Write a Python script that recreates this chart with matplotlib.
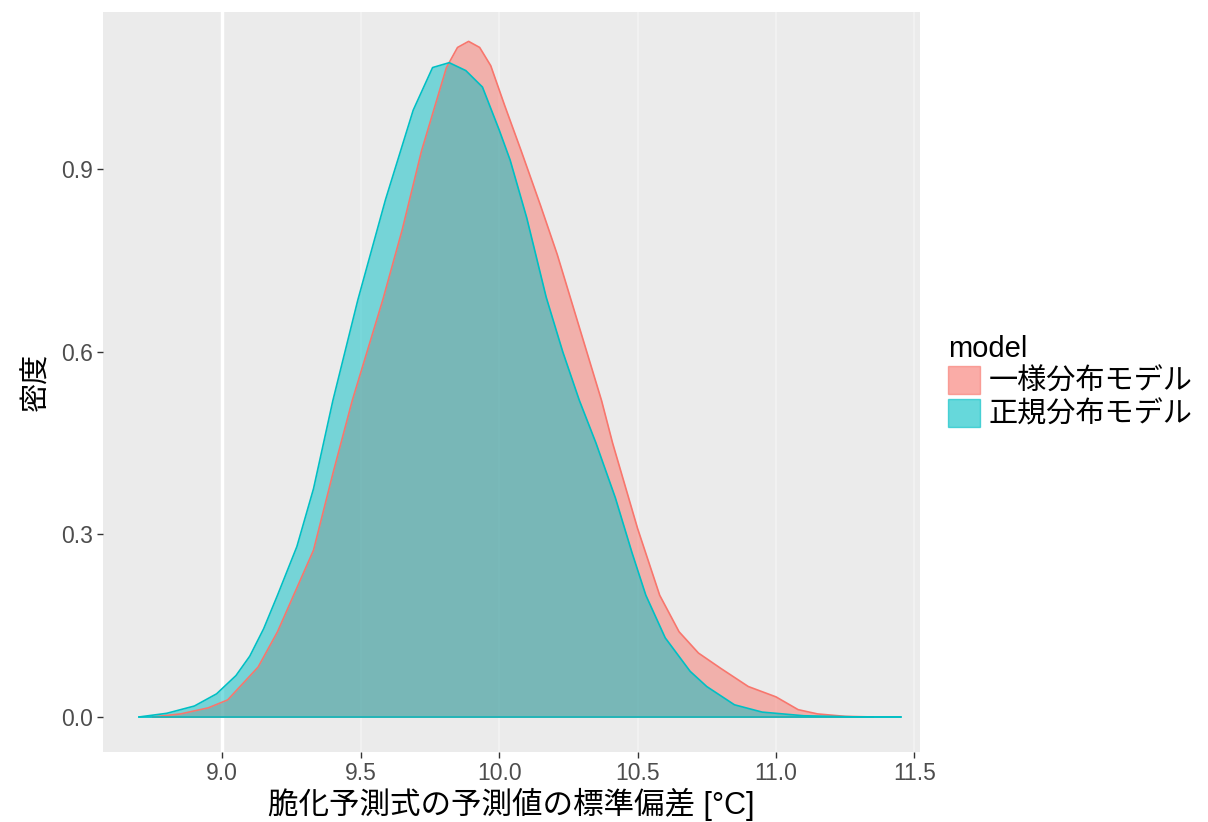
import numpy as np
import matplotlib.pyplot as plt
from matplotlib.patches import Patch

plt.rcParams['font.family'] = ['Liberation Sans', 'Noto Sans CJK JP', 'DejaVu Sans']

# density
x_normal = [8.70, 8.80, 8.90, 8.98, 9.05, 9.10, 9.15, 9.20, 9.27, 9.33, 9.40, 9.49,
            9.59, 9.69, 9.76, 9.82, 9.88, 9.94, 10.00, 10.04, 10.10, 10.17, 10.23,
            10.29, 10.35, 10.42, 10.48, 10.53, 10.60, 10.69, 10.75, 10.85, 10.95,
            11.10, 11.30, 11.45]
y_normal = [0.000, 0.006, 0.018, 0.038, 0.068, 0.100, 0.145, 0.200, 0.280, 0.375,
            0.520, 0.685, 0.850, 0.997, 1.067, 1.075, 1.062, 1.035, 0.965, 0.915,
            0.820, 0.690, 0.600, 0.520, 0.450, 0.360, 0.270, 0.200, 0.130, 0.075,
            0.050, 0.020, 0.008, 0.002, 0.000, 0.000]

x_uniform = [8.75, 8.85, 8.95, 9.02, 9.13, 9.20, 9.33, 9.40, 9.47, 9.58, 9.65, 9.72,
             9.81, 9.85, 9.89, 9.93, 9.97, 10.02, 10.08, 10.15, 10.21, 10.27, 10.33,
             10.37, 10.41, 10.50, 10.58, 10.65, 10.72, 10.80, 10.90, 11.00, 11.08,
             11.15, 11.25, 11.35]
y_uniform = [0.000, 0.005, 0.015, 0.028, 0.082, 0.140, 0.274, 0.400, 0.520, 0.685,
             0.800, 0.930, 1.067, 1.100, 1.110, 1.100, 1.070, 1.005, 0.930, 0.840,
             0.760, 0.670, 0.580, 0.520, 0.450, 0.310, 0.200, 0.140, 0.105, 0.080,
             0.050, 0.033, 0.012, 0.005, 0.001, 0.000]

labels = ['一様分布モデル', '正規分布モデル']
colors = ['#F8766D', '#00BFC4']
alpha = 0.5

fig = plt.figure(figsize=(12.08, 8.22), dpi=100)
ax = fig.add_axes([0.0853, 0.0852, 0.6763, 0.900])
ax.set_facecolor('#EBEBEB')

for xs, ys, c in [(x_uniform, y_uniform, colors[0]), (x_normal, y_normal, colors[1])]:
    ax.fill_between(xs, ys, 0, color=c, alpha=alpha, linewidth=0, zorder=3)
    ax.plot(xs, ys, color=c, linewidth=1.2, zorder=4)
    ax.plot([xs[0], xs[-1]], [0, 0], color=c, linewidth=1.2, zorder=4)

ax.set_xlim(8.570, 11.52)
ax.set_ylim(-0.0575, 1.158)
ax.set_xticks([9.0, 9.5, 10.0, 10.5, 11.0, 11.5])
ax.set_xticklabels(['9.0', '9.5', '10.0', '10.5', '11.0', '11.5'])
ax.set_yticks([0.0, 0.3, 0.6, 0.9])
ax.set_yticklabels(['0.0', '0.3', '0.6', '0.9'])

# faint grid, the 9.0 line shows clearly in the original
ax.grid(axis='x', color='#F1F1F1', linewidth=1.5, zorder=1)
ax.set_axisbelow(True)
ax.get_xgridlines()[0].set_color('white')
ax.get_xgridlines()[0].set_linewidth(2.5)

for s in ax.spines.values():
    s.set_visible(False)
ax.tick_params(colors='#333333', labelcolor='#4D4D4D', labelsize=16.5, length=4, width=1, pad=3)

ax.set_xlabel('脆化予測式の予測値の標準偏差 [°C]', fontsize=22, labelpad=2)
ax.set_ylabel('密度', fontsize=21, labelpad=8)

handles = [Patch(facecolor=c, edgecolor=c, alpha=0.6) for c in colors]
leg = ax.legend(handles, labels, title='model', loc='center left',
                bbox_to_anchor=(1.02, 0.5), frameon=False, fontsize=21,
                title_fontsize=21, handlelength=1.1, handleheight=1.1,
                labelspacing=0.1, handletextpad=0.3, borderaxespad=0.0,
                alignment='left')

fig.savefig('out.png', dpi=100)
